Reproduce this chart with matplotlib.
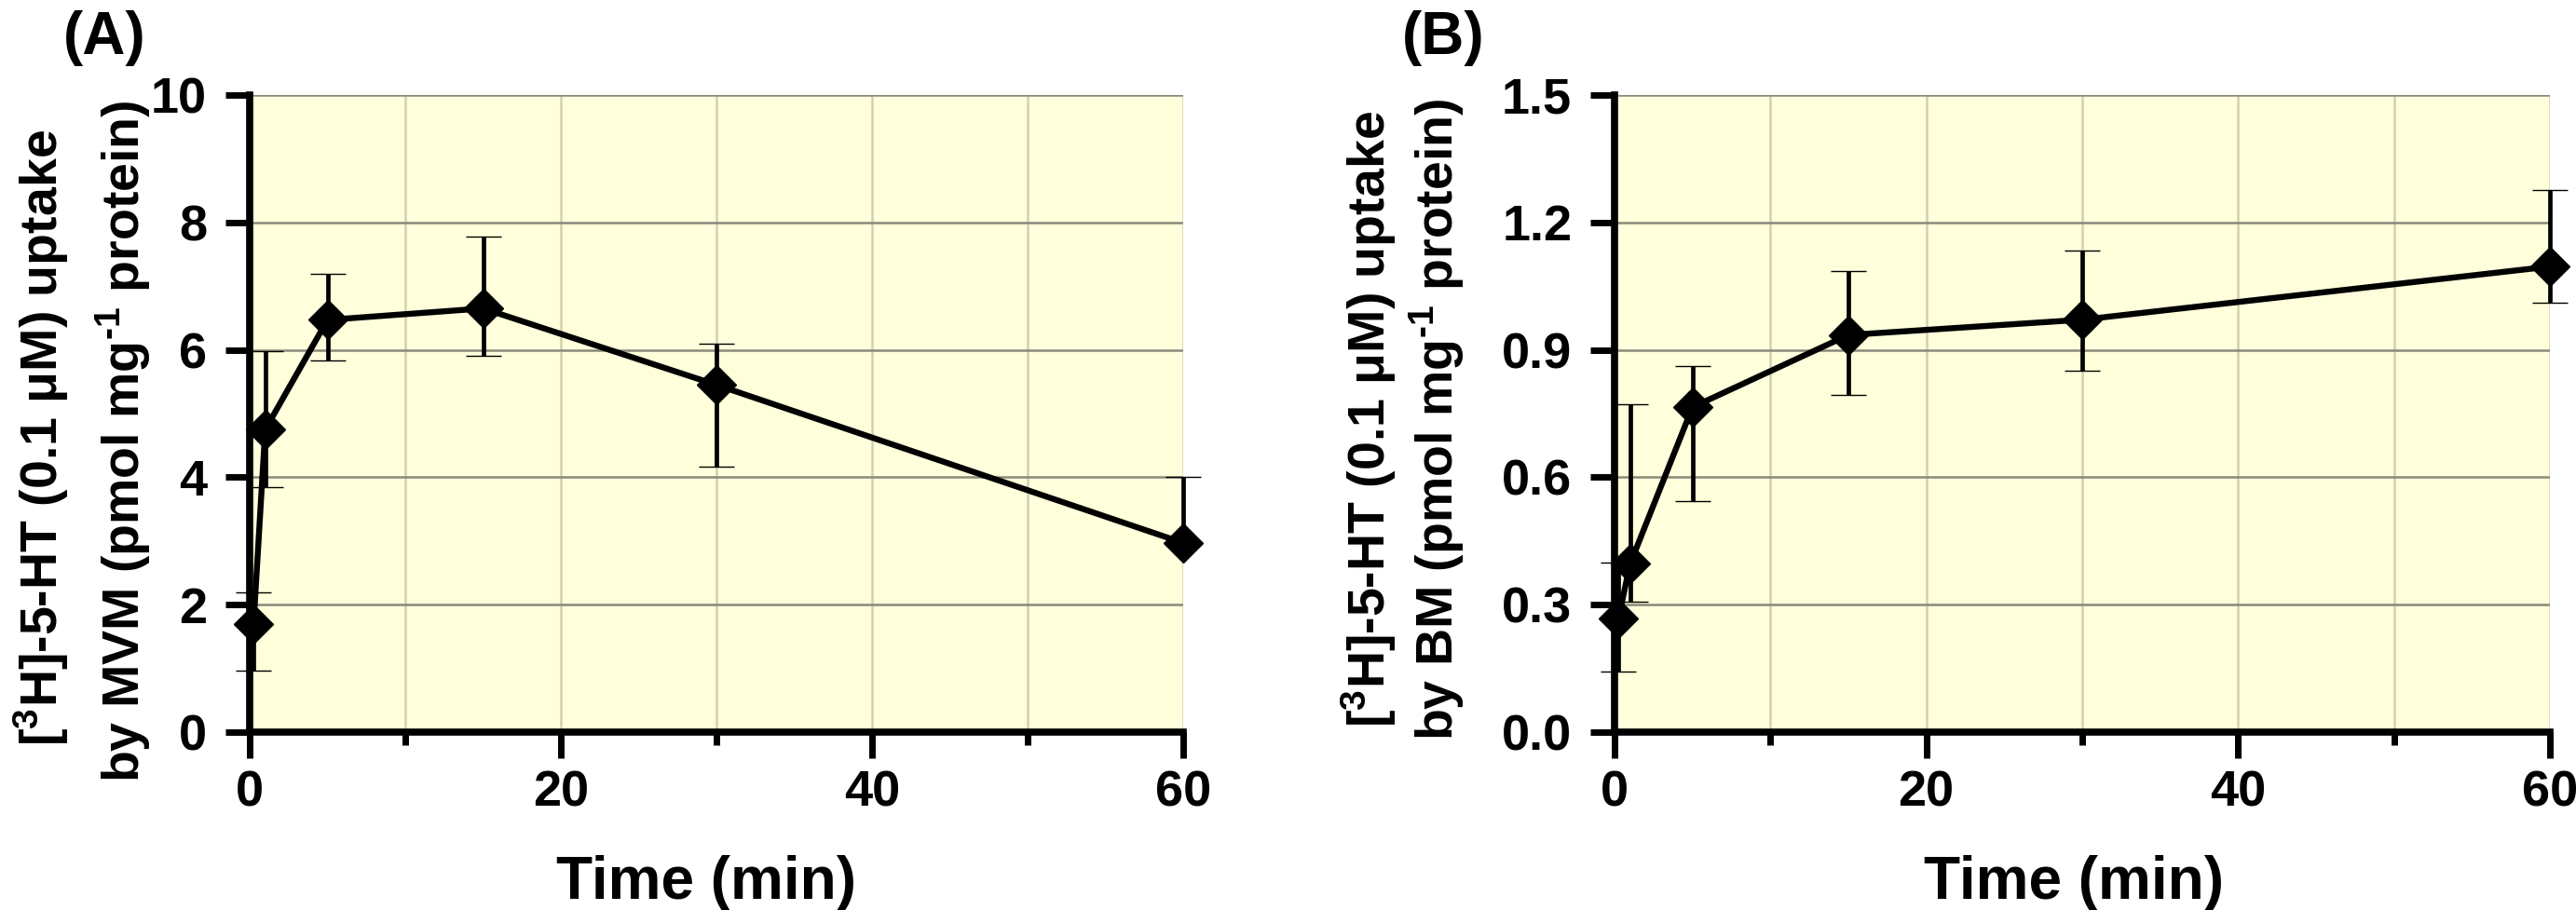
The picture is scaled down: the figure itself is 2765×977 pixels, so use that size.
import numpy as np
import matplotlib
matplotlib.use("Agg")
import matplotlib.pyplot as plt
from matplotlib.ticker import MultipleLocator, FormatStrFormatter

plt.rcParams['font.family'] = ['Liberation Sans', 'DejaVu Sans']
plt.rcParams['font.weight'] = 'bold'
plt.rcParams['mathtext.fontset'] = 'custom'
plt.rcParams['mathtext.rm'] = 'Liberation Sans:bold'
plt.rcParams['mathtext.bf'] = 'Liberation Sans:bold'
plt.rcParams['mathtext.default'] = 'regular'

# ---------------- data ----------------
time_min = [0.25, 1, 5, 15, 30, 60]

mvm_mean = [1.70, 4.75, 6.47, 6.65, 5.45, 2.97]
mvm_upper = [2.19, 5.98, 7.19, 7.78, 6.09, 4.00]
mvm_lower = [0.96, 3.85, 5.83, 5.91, 4.17, 2.97]   # last point: no lower bar

bm_mean = [0.268, 0.396, 0.765, 0.935, 0.971, 1.096]
bm_upper = [0.400, 0.773, 0.862, 1.086, 1.134, 1.277]
bm_lower = [0.142, 0.308, 0.544, 0.793, 0.850, 1.011]

x_ticks = [0, 20, 40, 60]
a_yticks = [0, 2, 4, 6, 8, 10]
b_yticks = [0.0, 0.3, 0.6, 0.9, 1.2, 1.5]

panel_labels = ["(A)", "(B)"]
ylabel_line1 = "[$^{3}$H]-5-HT (0.1 \u03bcM) uptake"
ylabel_line2 = ["by MVM (pmol mg$^{\\text{-}1}$ protein)", "by BM (pmol mg$^{\\text{-}1}$ protein)"]
xlabel_text = "Time (min)"

# ---------------- figure ----------------
W, H = 2765, 977
fig = plt.figure(figsize=(W / 100, H / 100), dpi=100)

def fx(px):
    return px / W

def fy(py):
    return (H - py) / H

axA = fig.add_axes([fx(268), fy(786), fx(1270) - fx(268), fy(102) - fy(786)])
axB = fig.add_axes([fx(1733), fy(786), fx(2737) - fx(1733), fy(102) - fy(786)])

BG = '#FFFFDC'

def style_axes(ax, yticks, ylim, yfmt):
    ax.set_facecolor(BG)
    ax.set_xlim(0, 60)
    ax.set_ylim(*ylim)
    ax.set_xticks(x_ticks)
    ax.xaxis.set_minor_locator(MultipleLocator(10))
    ax.set_yticks(yticks)
    ax.yaxis.set_major_formatter(FormatStrFormatter(yfmt))
    for s in ['top', 'right']:
        ax.spines[s].set_visible(False)
    for s in ['left', 'bottom']:
        ax.spines[s].set_linewidth(5.5)
        ax.spines[s].set_color('black')
        ax.spines[s].set_zorder(2.5)
    ax.yaxis.grid(True, which='major', color='#8a897a', linewidth=1.8, zorder=0)
    ax.xaxis.grid(True, which='both', color='#d3d0b0', linewidth=1.8, zorder=0)
    ax.set_axisbelow(True)
    ax.tick_params(axis='x', which='major', direction='out', length=20, width=5,
                   pad=9, labelsize=39, colors='black')
    ax.tick_params(axis='x', which='minor', direction='out', length=10, width=5)
    ax.tick_params(axis='y', which='major', direction='out', length=19, width=5,
                   pad=14, labelsize=39)
    for lab in ax.get_xticklabels() + ax.get_yticklabels():
        lab.set_fontweight('bold')

def draw_series(ax, mean, upper, lower):
    mean = np.array(mean)
    up_err = np.array(upper) - mean
    lo_err = mean - np.array(lower)
    cont = ax.errorbar(time_min, mean, yerr=[lo_err, up_err], fmt='-D', color='black',
                       linewidth=4.6, markersize=21, markeredgewidth=1,
                       elinewidth=3.4, capsize=14, capthick=4.3, zorder=3)
    data_line, caplines, barcols = cont.lines
    data_line.set_zorder(4)
    # hide lower cap where there is no lower bar
    keep = [i for i, e in enumerate(lo_err) if e > 0]
    caplines[0].set_markevery(keep)
    for art in [data_line, *caplines, *barcols]:
        art.set_clip_on(False)

style_axes(axA, a_yticks, (0, 10), '%d')
style_axes(axB, b_yticks, (0, 1.5), '%.1f')
draw_series(axA, mvm_mean, mvm_upper, mvm_lower)
draw_series(axB, bm_mean, bm_upper, bm_lower)

# panel labels
fig.text(fx(68), fy(58), panel_labels[0], fontsize=46, fontweight='bold', ha='left', va='baseline')
fig.text(fx(1505), fy(58), panel_labels[1], fontsize=46, fontweight='bold', ha='left', va='baseline')

# y labels (two lines each)
ylab_kw = dict(fontsize=40, fontweight='bold', rotation=90, rotation_mode='anchor',
               ha='center', va='baseline')
fig.text(fx(62), fy(470), ylabel_line1, **ylab_kw)
fig.text(fx(150), fy(474), ylabel_line2[0], **ylab_kw)
fig.text(fx(1487), fy(450), ylabel_line1, **ylab_kw)
fig.text(fx(1560), fy(450), ylabel_line2[1], **ylab_kw)

# x labels
fig.text(fx(758), fy(965), xlabel_text, fontsize=46, fontweight='bold', ha='center', va='baseline')
fig.text(fx(2226), fy(965), xlabel_text, fontsize=46, fontweight='bold', ha='center', va='baseline')

fig.savefig('out.png', dpi=100, facecolor='white')
